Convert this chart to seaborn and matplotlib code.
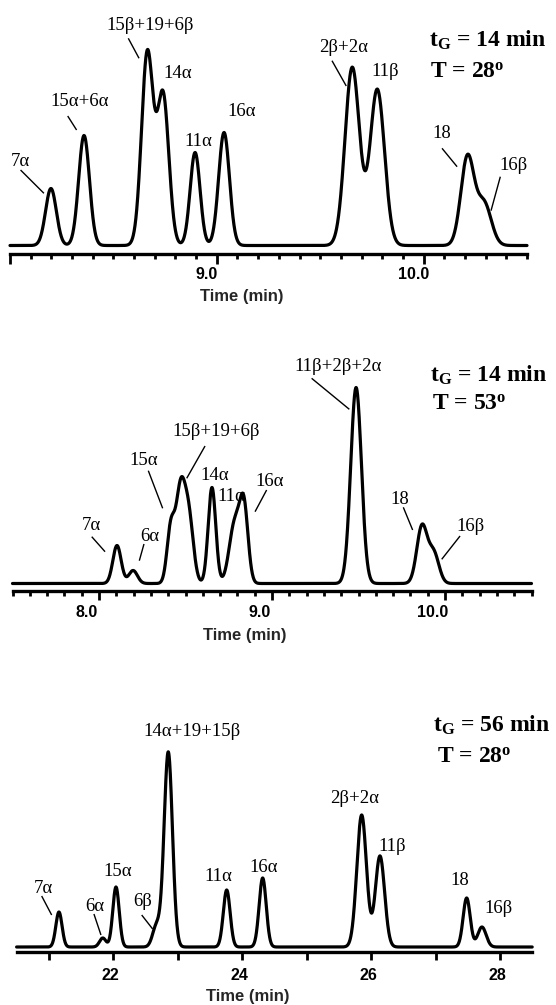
import numpy as np
import matplotlib
matplotlib.use("Agg")
import matplotlib.pyplot as plt
import matplotlib.transforms as mtrans
import seaborn as sns

# ------------------------------------------------------------------
# DATA  (peak retention time [min], apex response, peak width sigma [min])
# ------------------------------------------------------------------
# Panel A : tG = 14 min, T = 28 deg
a_rt     = [8.198, 8.358, 8.664, 8.740, 8.895, 9.035, 9.655, 9.776, 10.212, 10.292]
a_height = [57, 110, 192, 150, 93, 113, 178, 156, 88, 42]
a_sigma  = [0.026, 0.026, 0.028, 0.028, 0.024, 0.026, 0.035, 0.035, 0.032, 0.035]
a_labels = ["7α", "15α+6α", "15β+19+6β", "14α", "11α", "16α", "2β+2α", "11β", "18", "16β"]
a_cond   = ["$\\mathbf{t}_{\\mathbf{G}}$ = 14 min", "T = 28$^{\\mathbf{o}}$"]
a_ticks_major = [8.0, 9.0, 10.0]
a_ticklabels  = ["", "9.0", "10.0"]

# Panel B : tG = 14 min, T = 53 deg
b_rt     = [8.104, 8.197, 8.415, 8.470, 8.518, 8.653, 8.785, 8.838, 9.486, 9.867, 9.935]
b_height = [38, 13, 55, 88, 66, 96, 60, 72, 196, 57, 30]
b_sigma  = [0.024, 0.025, 0.022, 0.026, 0.027, 0.022, 0.032, 0.024, 0.031, 0.030, 0.030]
b_labels = ["7α", "6α", "15α", "15β+19+6β", "14α", "11α", "16α", "11β+2β+2α", "18", "16β"]
b_cond   = ["$\\mathbf{t}_{\\mathbf{G}}$ = 14 min", "T = 53$^{\\mathbf{o}}$"]
b_ticks_major = [8.0, 9.0, 10.0]
b_ticklabels  = ["8.0", "9.0", "10.0"]

# Panel C : tG = 56 min, T = 28 deg
c_rt     = [21.157, 21.837, 22.042, 22.670, 22.853, 23.760, 24.318, 25.854, 26.138, 27.483, 27.720]
c_height = [35, 9, 60, 21, 195, 57, 69, 132, 91, 49, 20]
c_sigma  = [0.048, 0.050, 0.050, 0.060, 0.065, 0.053, 0.055, 0.075, 0.072, 0.055, 0.065]
c_labels = ["7α", "6α", "15α", "6β", "14α+19+15β", "11α", "16α", "2β+2α", "11β", "18", "16β"]
c_cond   = ["$\\mathbf{t}_{\\mathbf{G}}$ = 56 min", "T = 28$^{\\mathbf{o}}$"]
c_ticks_major = [21, 22, 23, 24, 25, 26, 27, 28]
c_ticklabels  = ["", "22", "", "24", "", "26", "", "28"]

x_title = "Time (min)"

# ------------------------------------------------------------------
# LAYOUT (label anchor positions in data units, leader segments)
# ------------------------------------------------------------------
a_label_pos = [(8.048, 79), (8.338, 139), (8.677, 216), (8.810, 168), (8.911, 99),
               (9.121, 129), (9.613, 193), (9.815, 169), (10.089, 108), (10.436, 75)]
a_leaders = [((8.051, 75.5), (8.164, 52.2)), ((8.279, 129.5), (8.322, 115.5)),
             ((8.572, 207.2), (8.624, 187.2)), ((9.557, 184.8), (9.626, 159.5)),
             ((10.089, 97.2), (10.162, 78.8)), ((10.371, 68.8), (10.326, 34.8))]
a_cond_pos = [(10.024, 198.8), (10.032, 168.2)]

b_label_pos = [(7.958, 54), (8.291, 42.5), (8.260, 118.5), (8.680, 147), (8.671, 104),
               (8.767, 82.5), (8.988, 97.5), (9.384, 212.5), (9.740, 79), (10.145, 52.5)]
b_leaders = [((7.958, 46.8), (8.035, 31.8)), ((8.260, 39.5), (8.233, 22.8)),
             ((8.285, 112.8), (8.368, 75.2)), ((8.613, 137.5), (8.507, 105.2)),
             ((8.969, 93.5), (8.902, 71.8)), ((9.229, 205.2), (9.447, 174.2)),
             ((9.759, 76.2), (9.813, 53.5)), ((10.087, 47.5), (9.981, 24.2))]
b_cond_pos = [(9.913, 201.8), (9.923, 173.5)]

c_label_pos = [(20.914, 54), (21.716, 36), (22.073, 71), (22.456, 41), (23.216, 211.5),
               (23.629, 66), (24.327, 75), (25.750, 144), (26.335, 96.5), (27.369, 62.5), (27.974, 34)]
c_leaders = [((20.889, 51), (21.044, 32)), ((21.700, 33), (21.809, 12)),
             ((22.441, 32), (22.611, 18))]
c_cond_pos = [(26.965, 215.3), (27.018, 184.3)]

W, H = 556, 1005

sns.set_theme(style="white")
plt.rcParams["font.family"] = ["Liberation Serif", "DejaVu Serif"]
plt.rcParams["mathtext.fontset"] = "custom"
plt.rcParams["mathtext.rm"] = "Liberation Serif"
plt.rcParams["mathtext.bf"] = "Liberation Serif:bold"
plt.rcParams["mathtext.it"] = "Liberation Serif:italic"

fig = plt.figure(figsize=(W / 100, H / 100), dpi=100)
fig.patch.set_facecolor("white")


def px_axes(left, right, top, bottom):
    return fig.add_axes([left / W, 1 - bottom / H, (right - left) / W, (bottom - top) / H])


def trace(ax, rt, hgt, sig, xlim):
    t = np.linspace(xlim[0], xlim[1], 3000)
    y = np.zeros_like(t)
    for r, h, s in zip(rt, hgt, sig):
        y += h * np.exp(-0.5 * ((t - r) / s) ** 2)
    sns.lineplot(x=t, y=y, ax=ax, color="black", linewidth=2.3, sort=False,
                 estimator=None)
    for ln in ax.lines:
        ln.set_solid_joinstyle("round")
        ln.set_clip_on(False)


def style(ax, xlim, ylim, major, majlabels, minor, majlen, minlen, pad, lab_dx_px,
          xlab_xy):
    ax.set_xlim(*xlim)
    ax.set_ylim(*ylim)
    ax.set_facecolor("none")
    for s in ["top", "right", "left"]:
        ax.spines[s].set_visible(False)
    ax.spines["bottom"].set_linewidth(2.4)
    ax.spines["bottom"].set_color("black")
    ax.set_yticks([])
    ax.set_xticks(major)
    ax.set_xticklabels(majlabels)
    if minor is not None:
        ax.set_xticks(minor, minor=True)
    ax.tick_params(axis="x", which="major", length=majlen, width=2.0, direction="out",
                   color="black", pad=pad, bottom=True, labelsize=11.5, labelcolor="black")
    ax.tick_params(axis="x", which="minor", length=minlen, width=2.0, direction="out",
                   color="black", bottom=True)
    off = mtrans.ScaledTranslation(lab_dx_px / 100, 0, fig.dpi_scale_trans)
    for tk in ax.xaxis.get_major_ticks():
        lbl = tk.label1
        lbl.set_fontfamily("Liberation Sans")
        lbl.set_fontweight("bold")
        lbl.set_transform(lbl.get_transform() + off)
    ax.set_xlabel(x_title, fontsize=12, fontweight="bold", family="Liberation Sans")
    ax.xaxis.set_label_coords(*xlab_xy)
    ax.xaxis.label.set_va("center")
    ax.grid(False)


def annotate(ax, labels, pos, leaders, cond, cond_pos):
    for lab, (x, y) in zip(labels, pos):
        ax.text(x, y, lab, ha="center", va="baseline", fontsize=13.5, color="black",
                family=["Liberation Serif", "DejaVu Serif"], clip_on=False)
    for (p1, p2) in leaders:
        ax.plot([p1[0], p2[0]], [p1[1], p2[1]], color="black", lw=1.0, clip_on=False,
                solid_capstyle="butt")
    for txt, (x, y) in zip(cond, cond_pos):
        ax.text(x, y, txt, ha="left", va="baseline", fontsize=17, fontweight="bold",
                color="black", family="Liberation Serif", clip_on=False)


# ---------------- Panel A ----------------
axA = px_axes(10, 527, 20, 254)
a_xlim = (8.0, 10.5)
trace(axA, a_rt, a_height, a_sigma, a_xlim)
style(axA, a_xlim, (-8.5, 225.5), a_ticks_major, a_ticklabels,
      np.round(np.arange(8.0, 10.501, 0.1), 2), 7.2, 3.8, 2.5, -10,
      (0.448, -0.1825))
annotate(axA, a_labels, a_label_pos, a_leaders, a_cond, a_cond_pos)

# ---------------- Panel B ----------------
axB = px_axes(12.5, 531.5, 340, 591.3)
b_xlim = (7.5, 10.5)
trace(axB, b_rt, b_height, b_sigma, b_xlim)
style(axB, b_xlim, (-7.8, 243.5), b_ticks_major, b_ticklabels,
      np.round(np.arange(7.5, 10.501, 0.1), 2), 6.5, 3.8, 3.5, -12,
      (0.447, -0.176))
annotate(axB, b_labels, b_label_pos, b_leaders, b_cond, b_cond_pos)

# ---------------- Panel C ----------------
axC = px_axes(16.6, 532.2, 690, 952)
c_xlim = (20.5, 28.5)
trace(axC, c_rt, c_height, c_sigma, c_xlim)
style(axC, c_xlim, (-5, 257), c_ticks_major, c_ticklabels, None, 5.8, 0, 5.5, -3,
      (0.449, -0.1706))
annotate(axC, c_labels, c_label_pos, c_leaders, c_cond, c_cond_pos)

fig.savefig("out.png", dpi=100, facecolor="white")
